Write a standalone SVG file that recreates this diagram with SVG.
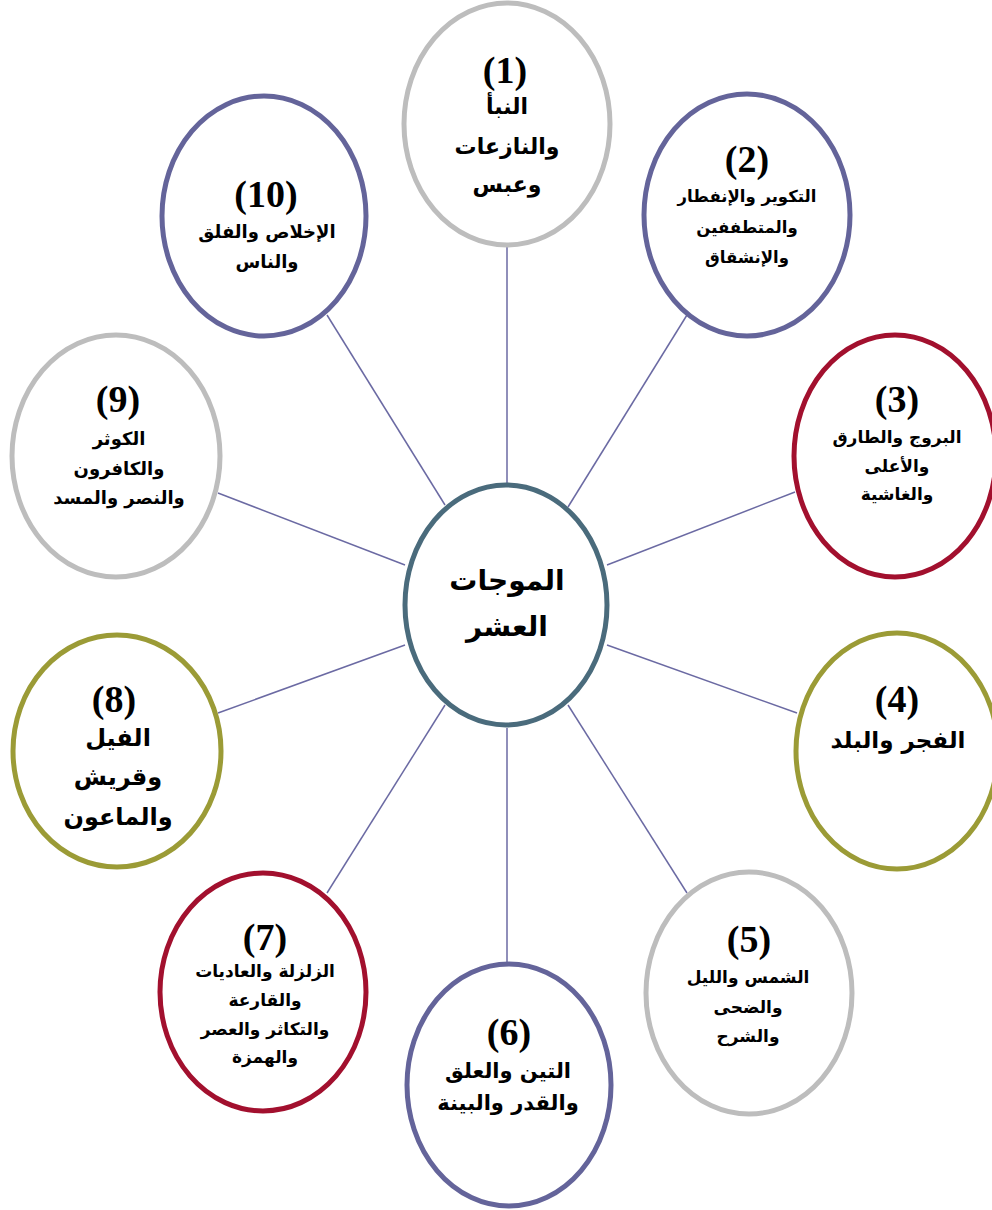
<svg xmlns="http://www.w3.org/2000/svg" width="992" height="1210" viewBox="0 0 992 1210">
<style>
.n{fill:#ffffff;stroke-width:5}
.gray{stroke:#bdbdbd}
.pur{stroke:#64649a}
.red{stroke:#a2102e}
.olv{stroke:#9b9b36}
.ctr{stroke:#4a6b7c}
.num{font-family:"Liberation Serif",serif;font-weight:bold;font-size:38px;text-anchor:middle;fill:#000}
.ar{font-family:"DejaVu Sans","Noto Sans",sans-serif;font-weight:bold;text-anchor:middle;fill:#000}
.con line{stroke:#6b6aa3;stroke-width:1.5}
</style>
<rect width="992" height="1210" fill="#ffffff"/>
<g id="connectors" class="con">
<line x1="507" y1="247" x2="507" y2="485"/>
<line x1="687" y1="315" x2="568" y2="507"/>
<line x1="795" y1="492" x2="607" y2="565"/>
<line x1="797" y1="713" x2="607" y2="645"/>
<line x1="687" y1="893" x2="568" y2="705"/>
<line x1="507" y1="728" x2="507" y2="963"/>
<line x1="445" y1="705" x2="327" y2="893"/>
<line x1="405" y1="645" x2="218" y2="713"/>
<line x1="405" y1="565" x2="218" y2="493"/>
<line x1="445" y1="505" x2="327" y2="315"/>
</g>
<g id="center">
<ellipse class="n ctr" cx="506" cy="605" rx="101" ry="120"/>
<text class="ar" font-size="28" x="507" y="590">الموجات</text>
<text class="ar" font-size="28" x="507" y="636">العشر</text>
</g>
<g id="node1">
<ellipse class="n gray" cx="507" cy="124" rx="103" ry="121"/>
<text class="num" x="505" y="83">(1)</text>
<text class="ar" font-size="22" x="507" y="114">النبأ</text>
<text class="ar" font-size="22" x="507" y="154">والنازعات</text>
<text class="ar" font-size="22" x="507" y="192">وعبس</text>
</g>
<g id="node2">
<ellipse class="n pur" cx="747" cy="215" rx="103" ry="121"/>
<text class="num" x="747" y="172">(2)</text>
<text class="ar" font-size="16.5" x="747" y="202">التكوير والإنفطار</text>
<text class="ar" font-size="16.5" x="747" y="233">والمتطففين</text>
<text class="ar" font-size="16.5" x="747" y="263">والإنشقاق</text>
</g>
<g id="node3">
<ellipse class="n red" cx="895" cy="456" rx="101" ry="121"/>
<text class="num" x="897" y="412">(3)</text>
<text class="ar" font-size="17" x="897" y="443">البروج والطارق</text>
<text class="ar" font-size="17" x="897" y="472">والأعلى</text>
<text class="ar" font-size="17" x="897" y="500">والغاشية</text>
</g>
<g id="node4">
<ellipse class="n olv" cx="897" cy="751" rx="101" ry="118"/>
<text class="num" x="897" y="712">(4)</text>
<text class="ar" font-size="23" x="898" y="748">الفجر والبلد</text>
</g>
<g id="node5">
<ellipse class="n gray" cx="749" cy="993" rx="103" ry="121"/>
<text class="num" x="749" y="952">(5)</text>
<text class="ar" font-size="17" x="748" y="983">الشمس والليل</text>
<text class="ar" font-size="17" x="748" y="1013">والضحى</text>
<text class="ar" font-size="17" x="748" y="1042">والشرح</text>
</g>
<g id="node6">
<ellipse class="n pur" cx="509" cy="1085" rx="102" ry="121"/>
<text class="num" x="509" y="1045">(6)</text>
<text class="ar" font-size="21" x="508" y="1078">التين والعلق</text>
<text class="ar" font-size="21" x="508" y="1110">والقدر والبينة</text>
</g>
<g id="node7">
<ellipse class="n red" cx="263" cy="992" rx="103" ry="119"/>
<text class="num" x="265" y="950">(7)</text>
<text class="ar" font-size="17" x="265" y="977">الزلزلة والعاديات</text>
<text class="ar" font-size="17" x="265" y="1006">والقارعة</text>
<text class="ar" font-size="17" x="265" y="1035">والتكاثر والعصر</text>
<text class="ar" font-size="17" x="265" y="1063">والهمزة</text>
</g>
<g id="node8">
<ellipse class="n olv" cx="117" cy="751" rx="104" ry="116"/>
<text class="num" x="114" y="712">(8)</text>
<text class="ar" font-size="24" x="118" y="746">الفيل</text>
<text class="ar" font-size="24" x="118" y="785">وقريش</text>
<text class="ar" font-size="24" x="118" y="825">والماعون</text>
</g>
<g id="node9">
<ellipse class="n gray" cx="116" cy="456" rx="104" ry="121"/>
<text class="num" x="118" y="412">(9)</text>
<text class="ar" font-size="18" x="119" y="445">الكوثر</text>
<text class="ar" font-size="18" x="119" y="475">والكافرون</text>
<text class="ar" font-size="18" x="119" y="504">والنصر والمسد</text>
</g>
<g id="node10">
<ellipse class="n pur" cx="264" cy="216" rx="102" ry="120"/>
<text class="num" x="266" y="207" font-size="34">(10)</text>
<text class="ar" font-size="18" x="267" y="238">الإخلاص والفلق</text>
<text class="ar" font-size="18" x="267" y="268">والناس</text>
</g>
</svg>
